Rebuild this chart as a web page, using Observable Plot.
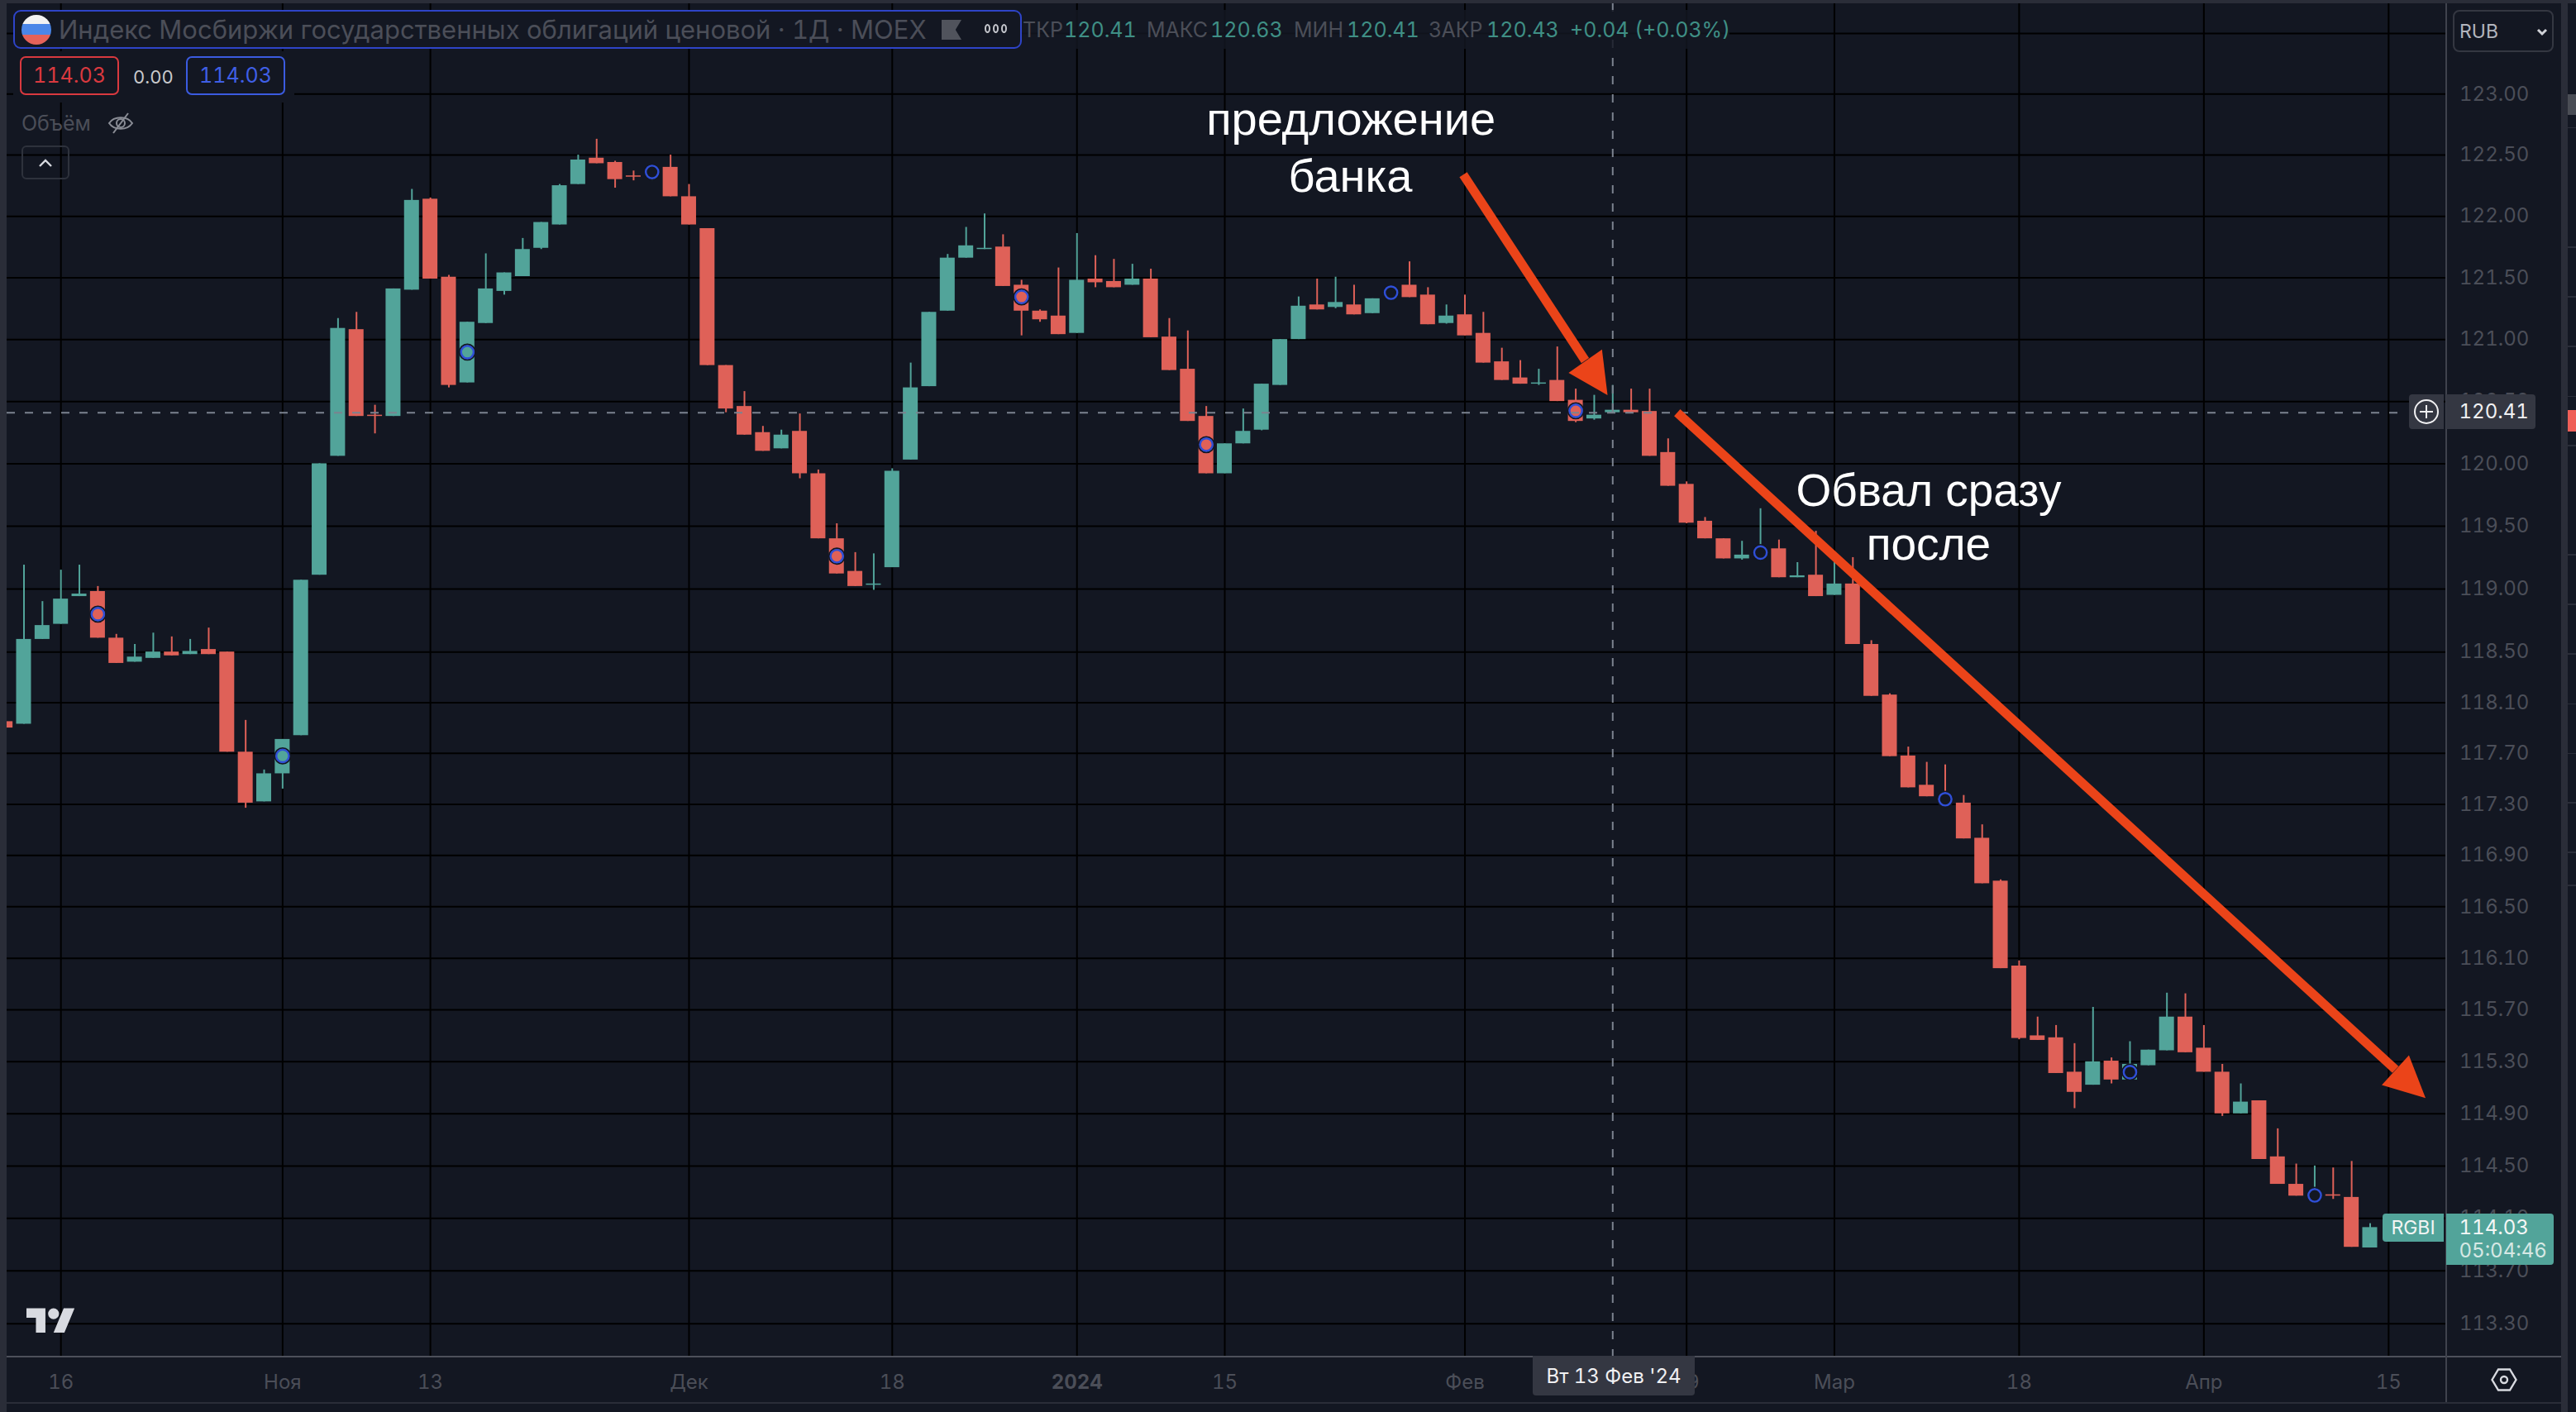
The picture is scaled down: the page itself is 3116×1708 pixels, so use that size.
<!DOCTYPE html>
<html lang="ru"><head><meta charset="utf-8">
<script src="https://cdn.jsdelivr.net/npm/d3@7"></script>
<script src="https://cdn.jsdelivr.net/npm/@observablehq/plot@0.6"></script>
<style>
html,body{margin:0;padding:0;background:#131722;overflow:hidden}
#w{position:relative;width:3116px;height:1708px;overflow:hidden;font-family:Inter,sans-serif;font-variant-numeric:tabular-nums;font-feature-settings:"tnum"}
#w svg{display:block}
.a{position:absolute;white-space:nowrap;box-sizing:border-box}
.dim{color:#4b4e58}.g{color:#3f8f85}
</style></head><body><div id="w"><div id="chart"></div></div>
<script>
const opens=[117.95,117.93,118.60,118.72,118.94,118.98,118.61,118.42,118.45,118.50,118.48,118.52,118.50,117.71,117.32,117.54,117.84,119.11,120.06,121.08,120.39,120.38,121.40,122.14,121.505,120.65,121.13,121.39,121.51,121.74,121.93,122.26,122.475,122.44,122.33,122.355,122.40,122.16,121.90,120.79,120.46,120.25,120.12,120.26,119.92,119.40,119.14,119.03,119.17,120.03,120.62,121.23,121.66,121.73,121.75,121.44,121.23,121.19,121.05,121.49,121.47,121.44,121.49,121.02,120.76,120.38,119.92,120.16,120.27,120.63,121.00,121.28,121.26,121.28,121.21,121.37,121.44,121.36,121.13,121.20,121.05,120.82,120.69,120.64,120.67,120.51,120.36,120.41,120.43,120.42,120.09,119.835,119.54,119.40,119.24,119.28,119.32,119.09,119.11,118.95,119.04,118.56,118.16,117.68,117.45,117.345,117.31,117.035,116.70,116.04,115.50,115.485,115.22,115.12,115.305,115.16,115.27,115.385,115.645,115.405,115.22,114.90,115.00,114.57,114.36,114.27,114.28,114.26,113.875];
const highs=[117.95,119.19,118.90,119.15,119.19,119.02,118.64,118.56,118.65,118.62,118.60,118.69,118.50,117.96,117.57,117.81,119.07,120.00,121.17,121.22,120.47,121.41,122.22,122.15,121.52,121.14,121.695,121.54,121.82,121.95,122.26,122.50,122.63,122.45,122.37,122.37,122.50,122.26,121.90,120.79,120.58,120.30,120.27,120.40,119.95,119.52,119.29,119.28,119.96,120.81,121.22,121.69,121.91,122.02,121.85,121.48,121.24,121.58,121.86,121.68,121.65,121.61,121.57,121.17,121.07,120.46,120.16,120.44,120.64,121.00,121.345,121.49,121.505,121.44,121.33,121.39,121.63,121.42,121.28,121.36,121.22,120.93,120.83,120.76,120.94,120.60,120.55,120.63,120.60,120.60,120.20,119.855,119.57,119.40,119.38,119.64,119.39,119.21,119.46,119.25,119.25,118.59,118.17,117.75,117.63,117.61,117.37,117.14,116.71,116.08,115.645,115.58,115.44,115.72,115.33,115.455,115.39,115.83,115.825,115.58,115.28,115.13,115.00,114.785,114.515,114.50,114.485,114.535,114.06];
const lows=[117.90,117.93,118.60,118.72,118.94,118.61,118.41,118.42,118.45,118.47,118.48,118.48,117.71,117.27,117.32,117.42,117.84,119.11,120.06,120.38,120.24,120.38,121.40,121.49,120.61,120.65,121.13,121.36,121.51,121.73,121.93,122.26,122.43,122.23,122.29,122.29,122.16,121.93,120.79,120.41,120.23,120.10,120.12,119.88,119.40,119.12,119.02,118.99,119.17,120.03,120.62,121.23,121.66,121.73,121.43,121.03,121.14,121.04,121.05,121.42,121.42,121.44,121.015,120.75,120.34,119.92,119.92,120.16,120.265,120.63,121.00,121.24,121.25,121.20,121.21,121.33,121.34,121.12,121.125,121.03,120.81,120.67,120.64,120.63,120.50,120.33,120.35,120.41,120.41,120.06,119.82,119.52,119.40,119.24,119.23,119.27,119.09,119.09,118.94,118.95,118.56,118.15,117.675,117.43,117.36,117.305,117.03,116.68,116.02,115.47,115.465,115.21,114.94,115.12,115.13,115.16,115.27,115.385,115.37,115.22,114.88,114.90,114.55,114.36,114.27,114.27,114.245,113.88,113.875];
const closes=[117.90,118.60,118.71,118.92,118.96,118.61,118.41,118.46,118.50,118.47,118.505,118.48,117.71,117.31,117.54,117.81,119.07,120.00,121.09,120.38,120.38,121.41,122.13,121.49,120.63,121.14,121.41,121.54,121.73,121.95,122.25,122.46,122.43,122.30,122.32,122.365,122.16,121.93,120.79,120.44,120.23,120.10,120.23,119.92,119.40,119.12,119.02,119.04,119.94,120.61,121.22,121.66,121.76,121.74,121.43,121.23,121.16,121.04,121.48,121.46,121.42,121.49,121.015,120.75,120.34,119.92,120.16,120.26,120.64,121.00,121.27,121.24,121.30,121.20,121.33,121.38,121.34,121.12,121.19,121.03,120.81,120.67,120.64,120.65,120.50,120.34,120.39,120.43,120.41,120.06,119.82,119.525,119.40,119.24,119.27,119.295,119.09,119.105,118.94,119.04,118.56,118.15,117.675,117.43,117.36,117.335,117.03,116.68,116.02,115.48,115.465,115.21,115.065,115.30,115.16,115.28,115.39,115.645,115.37,115.22,114.90,114.99,114.55,114.36,114.27,114.28,114.27,113.88,114.03];
const markerBars=[5,15,25,35,45,55,65,75,85,95,105,115,125];
const markerPrices=[118.80,117.68,120.898,122.362,119.261,121.345,120.153,121.379,120.425,119.29,117.34,115.22,114.275];
const gridPrices=[123.5,123,122.5,122,121.5,121,120.5,120,119.5,119,118.5,118.1,117.7,117.3,116.9,116.5,116.1,115.7,115.3,114.9,114.5,114.1,113.7,113.3];
const labelPrices=gridPrices.slice(1);
const dateBars=[3,15,23,37,48,58,66,79,91,99,109,119,129];
const dateLabels=["16","Ноя","13","Дек","18","2024","15","Фев","19","Мар","18","Апр","15"];
const crossBar=87, crossPrice=120.41;
const arrowOneShaft=[[78.91,122.34],[85.51,120.83]];
const arrowOneHead=[[86.42,120.92],[86.72,120.55],[84.61,120.73]];
const arrowTwoShaft=[[90.49,120.41],[129.37,115.24]];
const arrowTwoHead=[[130.1,115.35],[131.0,115.02],[128.63,115.12]];
const notesBank=[["предложение",72.83,122.785],["банка",72.8,122.32]];
const notesCrash=[["Обвал сразу",104.1,119.78],["после",104.1,119.35]];

const GREEN="#52a49a",RED="#df6158",ORANGE="#eb4419",DIM="#4b4e58",CROSS="#7b828f",BG="#131722";
const bars=opens.map((o,j)=>({j,open:o,high:highs[j],low:lows[j],close:closes[j]}));
const up=bars.filter(d=>d.close>=d.open), down=bars.filter(d=>d.close<d.open);
const markers=markerBars.map((j,k)=>({j,p:markerPrices[k]}));
const hollow=markers.filter(m=>Math.abs(opens[m.j]-closes[m.j])<0.14);
const labelOf=new Map(dateBars.map((j,k)=>[j,dateLabels[k]]));
const boldBar=dateBars[dateLabels.indexOf("2024")];
const candles=(data,color)=>[
  Plot.ruleX(data,{x:"j",y1:"low",y2:"high",stroke:color,strokeWidth:2,clip:true}),
  Plot.rect(data,{x1:d=>d.j-.403,x2:d=>d.j+.403,y1:"open",y2:"close",fill:color,clip:true})
];
const arrow=(shaft,head)=>[
  Plot.line(shaft,{x:"0",y:"1",stroke:ORANGE,strokeWidth:11,strokeLinecap:"butt"}),
  Plot.line(head,{x:"0",y:"1",fill:ORANGE,stroke:"none"})
];
const chart=Plot.plot({
  width:3116,height:1708,marginLeft:8,marginRight:157,marginTop:4,marginBottom:68,
  style:{background:"transparent",fontFamily:"Inter, sans-serif",overflow:"visible"},
  x:{type:"linear",domain:[0.0826,132.14]},
  y:{type:"log",domain:[113.054,123.745]},
  marks:[
    Plot.gridX(dateBars,{stroke:"#000",strokeOpacity:1,strokeWidth:2}),
    Plot.gridY(gridPrices,{stroke:"#000",strokeOpacity:1,strokeWidth:2}),
    Plot.axisY(labelPrices,{anchor:"right",tickSize:0,tickPadding:15.5,label:null,tickFormat:d=>d.toFixed(2),fill:DIM,fontSize:24}),
    Plot.axisX(dateBars.filter(j=>j!==boldBar),{anchor:"bottom",tickSize:0,tickPadding:22,label:null,tickFormat:j=>labelOf.get(j),fill:DIM,fontSize:24}),
    Plot.axisX([boldBar],{anchor:"bottom",tickSize:0,tickPadding:22,label:null,tickFormat:j=>labelOf.get(j),fill:DIM,fontSize:24,fontWeight:700}),
    ...candles(up,GREEN),...candles(down,RED),
    Plot.dot(hollow,{x:"j",y:"p",r:8,fill:BG,stroke:"none"}),
    Plot.dot(markers,{x:"j",y:"p",r:9.4,stroke:BG,strokeWidth:2,fill:"none"}),
    Plot.dot(markers,{x:"j",y:"p",r:7.6,stroke:"#2f4fd8",strokeWidth:2.4,fill:"none"}),
    Plot.ruleY([crossPrice],{x1:0.0826,x2:129.95,stroke:CROSS,strokeWidth:2,strokeDasharray:"10,12"}),
    Plot.ruleX([crossBar],{stroke:CROSS,strokeWidth:2,strokeDasharray:"10,12"}),
    ...arrow(arrowOneShaft,arrowOneHead),...arrow(arrowTwoShaft,arrowTwoHead),
    Plot.text(notesBank,{x:"1",y:"2",text:"0",fill:"#fff",fontSize:56,fontFamily:"Liberation Sans"}),
    Plot.text(notesCrash,{x:"1",y:"2",text:"0",fill:"#fff",fontSize:55,fontFamily:"Liberation Sans"})
  ]
});
document.getElementById("chart").append(chart);

const w=document.getElementById("w");
function box(css,html=""){const d=document.createElement("div");d.className="a";d.style.cssText=css;d.innerHTML=html;w.append(d);return d}
// frame
box("left:0;top:0;width:3116px;height:4px;background:#2a2d38");
box("left:0;top:0;width:8px;height:1708px;background:#2a2d38");
box("left:3098px;top:0;width:8px;height:1708px;background:#2a2d38");
box("left:8px;top:1640px;width:3090px;height:2px;background:#4d505a");
box("left:8px;top:1696px;width:3090px;height:2px;background:#2a2d38");
box("left:2958px;top:4px;width:2px;height:1692px;background:#3f424d");
// right strip
[153.6,298,358,418,478.6,538,670,730,790,850.6,910.6,970,1030,1070].forEach(y=>box(`left:3106px;top:${y}px;width:10px;height:1.5px;background:#2a2d38`));
box("left:3106px;top:114px;width:10px;height:25px;background:#4a4d55");
box("left:3106px;top:496px;width:10px;height:26px;background:#ef5f57");
// legend
box("left:1236px;top:12px;width:856px;height:47px;background:rgba(19,23,34,.82)");
box("left:16px;top:62px;width:340px;height:62px;background:#131722");
box("left:16px;top:12px;width:1220px;height:47px;background:#131722;border:2px solid #2e44c8;border-radius:9px");
box("left:26px;top:17.5px;width:36px;height:36px;border-radius:50%;background:linear-gradient(#f2f2f2 30%,#4a86e8 30% 66%,#e5625a 66%)");
box("left:71px;top:17px;font-size:31px;line-height:37px;color:#4b4e58","Индекс Мосбиржи государственных облигаций ценовой · 1Д · MOEX");
box("left:1139px;top:24px;width:24px;height:24px;background:#50535c;clip-path:polygon(0 0,100% 0,70% 50%,100% 100%,0 100%)");
box("left:1191px;top:29px;display:flex;gap:3px",'<i style="width:7px;height:11px;border:2px solid #c4c6cc;border-radius:50%;box-sizing:border-box"></i>'.repeat(3));
[[1237,"ТКР","dim"],[1287,"120.41","g"],[1387,"МАКС","dim"],[1464,"120.63","g"],[1565,"МИН","dim"],[1629,"120.41","g"],[1728,"ЗАКР","dim"],[1798,"120.43","g"],[1899,"+0.04 (+0.03%)","g"]]
 .forEach(([x,t,c])=>box(`left:${x}px;top:20px;font-size:25px;line-height:32px`,`<span class="${c}">${t}</span>`));
box("left:24px;top:68px;width:120px;height:47px;border:2px solid #d9393f;border-radius:7px;color:#d9393f;font-size:25px;line-height:43px;text-align:center","114.03");
box("left:161px;top:78px;font-size:22px;line-height:30px;color:#c8c9cc","0.00");
box("left:225px;top:68px;width:120px;height:47px;border:2px solid #3b5be0;border-radius:7px;color:#3f5fe6;font-size:25px;line-height:43px;text-align:center","114.03");
box("left:26px;top:133px;font-size:25px;line-height:32px;color:#4b4e58","Объём");
box("left:130px;top:134px",'<svg width="32" height="30" viewBox="0 0 32 30" fill="none" stroke="#8a8d96" stroke-width="2"><path d="M2 15C8 6 24 6 30 15C24 24 8 24 2 15Z"/><circle cx="16" cy="15" r="5"/><path d="M7 27L25 3"/></svg>');
box("left:26px;top:176px;width:58px;height:41px;border:2px solid #2e323c;border-radius:6px");
box("left:44px;top:190px",'<svg width="22" height="14" viewBox="0 0 22 14" fill="none" stroke="#d8dae0" stroke-width="2.4"><path d="M4 11L11 4L18 11"/></svg>');
// logo
box("left:32px;top:1576px",'<svg width="59" height="46" viewBox="0 0 36 28" fill="#d8dae0"><path d="M14 22H7V11H0V4h14v18zM28 22h-8l7.5-18h8L28 22z"/><circle cx="20" cy="8" r="4"/></svg>');
// currency
box("left:2967px;top:12px;width:122px;height:51px;background:#131722;border:2px solid #343741;border-radius:8px");
box("left:2975px;top:23px;font-size:23px;line-height:30px;color:#b2b5be","RUB");
box("left:3067px;top:33px",'<svg width="16" height="12" viewBox="0 0 16 12" fill="none" stroke="#d0d2d8" stroke-width="3"><path d="M3 3L8 8L13 3"/></svg>');
// crosshair price
box("left:2914px;top:477px;width:42px;height:42px;background:#343742;border-radius:4px 0 0 4px");
box("left:2919px;top:482px",'<svg width="32" height="32" viewBox="0 0 32 32" fill="none" stroke="#f0f0f2" stroke-width="2"><circle cx="16" cy="16" r="14"/><path d="M16 8V24M8 16H24"/></svg>');
box("left:2959px;top:477px;width:108px;height:42px;background:#343742;border-radius:0 4px 4px 0;color:#f0f0f2;font-size:24px;line-height:42px;padding-left:15.5px","120.41");
// last price
box("left:2882px;top:1468px;width:74px;height:34px;background:#52a49a;border-radius:4px 0 0 4px;color:#f2f5f4;font-size:23px;line-height:34px;text-align:center","RGBI");
box("left:2959px;top:1468px;width:130px;height:62px;background:#52a49a;border-radius:0 4px 4px 0;color:#f5f7f6;padding:2px 0 0 15.5px;font-size:24px;line-height:30px","114.03");
box("left:2974.5px;top:1499px;color:#d6e8e4;font-size:24px;line-height:28px","05:04:46");
// gear
box("left:3012px;top:1654px",'<svg width="34" height="30" viewBox="0 0 34 30" fill="none" stroke="#d8dae0" stroke-width="2.4"><path d="M2.5 15L10 2.5H24L31.5 15L24 27.5H10Z"/><circle cx="17" cy="15" r="4"/></svg>');
// crosshair date
box("left:1854px;top:1640px;width:196px;height:48px;background:#343742;border-radius:0 0 4px 4px;color:#f0f0f2;font-size:24px;line-height:50px;text-align:center","Вт 13 Фев '24");
</script></body></html>
